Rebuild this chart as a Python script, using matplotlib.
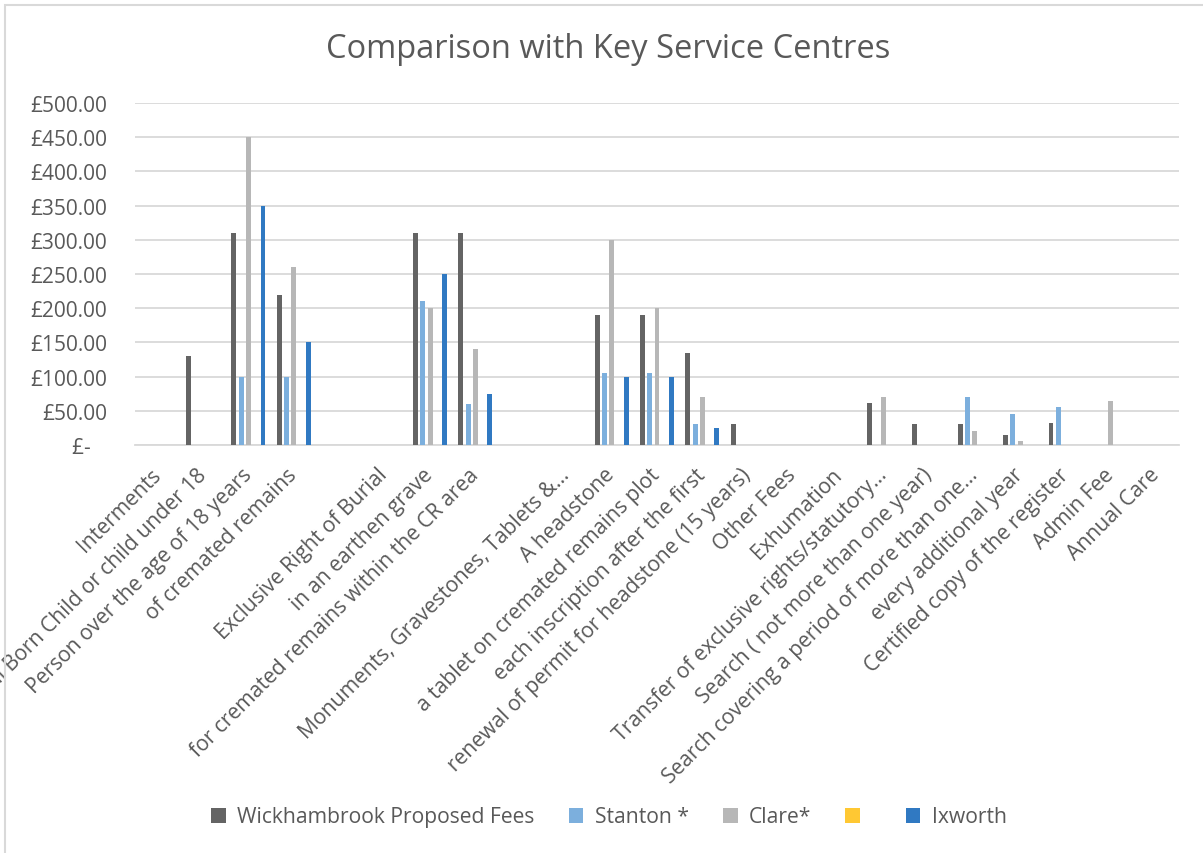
import numpy as np
import matplotlib
matplotlib.use("Agg")
from matplotlib import pyplot as plt
from matplotlib.patches import Patch, Rectangle
import matplotlib.ticker as ticker

plt.rcParams['font.family'] = ['Open Sans', 'DejaVu Sans']

nan = np.nan

categories = [
    "Interments",
    "Still Born Child or child under 18",
    "Person over the age of 18 years",
    "of cremated remains",
    "",
    "Exclusive Right of Burial",
    "in an earthen grave",
    "for cremated remains within the CR area",
    "",
    "Monuments, Gravestones, Tablets &...",
    "A headstone",
    "a tablet on cremated remains plot",
    "each inscription after the first",
    "renewal of permit for headstone (15 years)",
    "Other Fees",
    "Exhumation",
    "Transfer of exclusive rights/statutory...",
    "Search ( not more than one year)",
    "Search covering a period of more than one...",
    "every additional year",
    "Certified copy of the register",
    "Admin Fee",
    "Annual Care",
]

wickhambrook = [nan, 130, 310, 220, nan, nan, 310, 310, nan, nan, 190, 190, 135, 30,
                nan, nan, 62, 30, 30, 15, 32, nan, nan]
stanton = [nan, nan, 100, 100, nan, nan, 210, 60, nan, nan, 105, 105, 30, nan,
           nan, nan, nan, nan, 70, 45, 55, nan, nan]
clare = [nan, nan, 450, 260, nan, nan, 200, 140, nan, nan, 300, 200, 70, nan,
         nan, nan, 70, nan, 20, 6, nan, 65, nan]
blank_series = [nan] * len(categories)
ixworth = [nan, nan, 350, 150, nan, nan, 250, 75, nan, nan, 100, 100, 25, nan,
           nan, nan, nan, nan, nan, nan, nan, nan, nan]

series = [
    ("Wickhambrook Proposed Fees", wickhambrook, "#646464"),
    ("Stanton *", stanton, "#7CAFDD"),
    ("Clare*", clare, "#B7B7B7"),
    ("", blank_series, "#FFC833"),
    ("Ixworth", ixworth, "#3079C2"),
]

text_color = "#595959"
grid_color = "#D9D9D9"

fig = plt.figure(figsize=(12.03, 8.54), dpi=100)
ax = fig.add_axes([135 / 1203, 1 - 446 / 854, (1179 - 135) / 1203, (446 - 104) / 854])

x = np.arange(len(categories))
pitch = 0.16
width = 0.11
for i, (label, values, color) in enumerate(series):
    ax.bar(x + (i - 2) * pitch, values, width=width, color=color, label=label, zorder=3)

ax.set_xlim(-0.5, len(categories) - 0.5)
ax.set_ylim(0, 500)
ax.yaxis.set_major_locator(ticker.MultipleLocator(50))


def money(v, pos):
    if abs(v) < 1e-9:
        return "£-   "
    return f"£{v:,.2f}"


ax.yaxis.set_major_formatter(ticker.FuncFormatter(money))
ax.grid(axis='y', color=grid_color, linewidth=1.3, zorder=0)
ax.set_axisbelow(True)
for side in ['top', 'right', 'left']:
    ax.spines[side].set_visible(False)
ax.spines['bottom'].set_color(grid_color)
ax.spines['bottom'].set_linewidth(1.3)

ax.tick_params(axis='y', length=0, pad=20, labelsize=15, labelcolor=text_color)
ax.tick_params(axis='x', length=0, pad=19, labelsize=15.2, labelcolor=text_color)
ax.set_xticks(x)
ax.set_xticklabels(categories, rotation=45, ha='right', va='center', rotation_mode='anchor')

fig.text(608 / 1203, 1 - 50 / 854, "Comparison with Key Service Centres",
         ha='center', va='center', fontsize=23.5, color=text_color)

handles = [Patch(facecolor=c, edgecolor='none') for _, _, c in series]
labels = [s[0] for s in series]
fig.legend(handles, labels, loc='center', bbox_to_anchor=(609 / 1203, 1 - 818 / 854),
           ncol=5, frameon=False, fontsize=15.2, labelcolor=text_color,
           handlelength=0.7, handleheight=0.7, handletextpad=0.55, columnspacing=1.6)

# chart area outline (cut off at the right and bottom)
fig.add_artist(Rectangle((5 / 1203, -0.1), 1.1, 1.1 - 6 / 854, transform=fig.transFigure,
                         fill=False, edgecolor=grid_color, linewidth=1.5))

plt.savefig("out.png", dpi=100)
plt.close()
